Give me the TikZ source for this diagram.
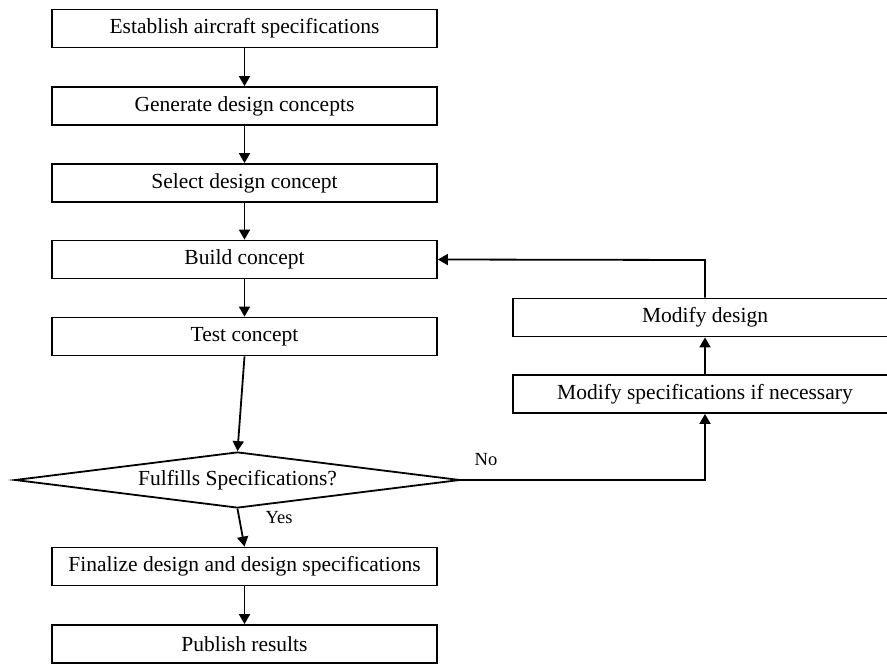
\documentclass[tikz,border=0pt]{standalone}
\usepackage{fontspec}
\setmainfont{Liberation Serif}
\usetikzlibrary{shapes.geometric,arrows.meta}
\begin{document}
\begin{tikzpicture}[x=1pt,y=-1pt,
  every node/.style={font=\fontsize{21.5}{25}\selectfont},
  lbox/.style={draw,line width=1.8pt,rectangle,minimum width=385pt,minimum height=38pt,inner sep=0pt},
  rbox/.style={draw,line width=1.8pt,rectangle,minimum width=384pt,minimum height=38pt,inner sep=0pt},
  decision/.style={draw,line width=1.8pt,diamond,aspect=7.9,inner sep=0pt,minimum width=445pt,minimum height=56pt},
  lab/.style={inner sep=1pt,font=\fontsize{18.5}{21}\selectfont},
  conn/.style={line width=1.8pt,-{Triangle[length=10pt,width=11pt]}}]
\path[use as bounding box,fill=white] (0,0) rectangle (887,664);
\begin{scope}
\clip (0,0) rectangle (887,664);
\node[lbox] (b1) at (244.5,28.5) {Establish aircraft specifications};
\node[lbox] (b2) at (244.5,106) {Generate design concepts};
\node[lbox] (b3) at (244.5,183) {Select design concept};
\node[lbox] (b4) at (244.5,259.5) {Build concept};
\node[lbox] (b5) at (244.5,336.5) {Test concept};
\node[decision] (d) at (237.5,480) {Fulfills Specifications?};
\node[lbox] (b6) at (244.5,566.5) {Finalize design and design specifications};
\node[lbox] (b7) at (244.5,644) {Publish results};
\node[rbox] (m1) at (705,317.5) {Modify design};
\node[rbox] (m2) at (705,394) {Modify specifications if necessary};
\coordinate (c1) at (705,480);
\coordinate (c2) at (705,260);
\draw[conn] (b1) -- (b2);
\draw[conn] (b2) -- (b3);
\draw[conn] (b3) -- (b4);
\draw[conn] (b4) -- (b5);
\draw[conn] (b5.south) -- (d.north);
\draw[conn] (d.south) -- (b6.north);
\draw[conn] (b6) -- (b7);
\draw[conn] (d.east) -- (c1) -- (m2.south);
\draw[conn] (m2) -- (m1);
\draw[conn] (m1.north) -- (c2) -- (b4.east);
\node[lab] (no) at (486,460) {No};
\node[lab] (yes) at (279,518) {Yes};
\end{scope}
\end{tikzpicture}
\end{document}
